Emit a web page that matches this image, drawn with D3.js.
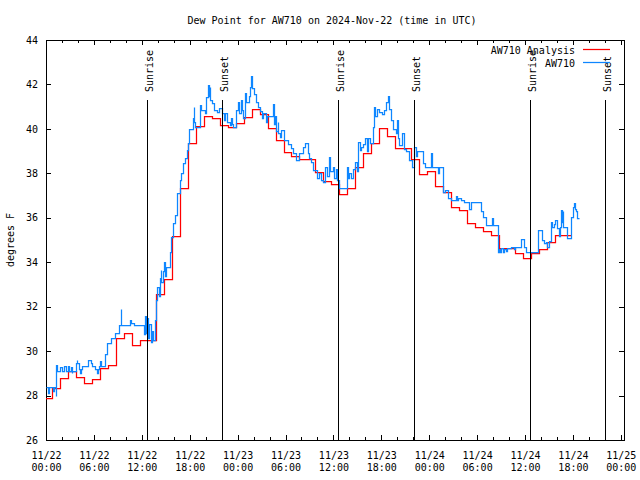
<!DOCTYPE html>
<html><head><meta charset="utf-8">
<script src="https://cdn.jsdelivr.net/npm/d3@7"></script>
<style>
body{margin:0;background:#fff}
svg text{font-family:"DejaVu Sans Mono",monospace;font-size:10px;fill:#000}
</style></head><body>
<svg id="chart" width="640" height="480"></svg>
<script>
// ---------------- data ----------------
const title = "Dew Point for AW710 on 2024-Nov-22 (time in UTC)";
const yLabel = "degrees F";
const seriesNames = ["AW710 Analysis", "AW710"];
const startUTC = Date.UTC(2024, 10, 22, 0, 0);
const yTicks = [26, 28, 30, 32, 34, 36, 38, 40, 42, 44];
const sunriseHours = [12.63, 36.63, 60.6];
const sunsetHours = [22.03, 46.05, 70.03];

// analysis (hourly, each value held from hh-0:15 to hh+0:45)
const analysisStartHour = -0.25;
const analysisValues = [
  27.87, 28.32, 28.77, 29.12, 28.85, 28.55, 28.76, 29.22, 29.36, 30.57,
  30.80, 30.27, 30.48, 30.48, 32.57, 33.23, 35.18, 37.33, 39.38, 40.13,
  40.56, 40.49, 40.16, 40.07, 40.27, 40.52, 40.88, 40.66, 40.04, 39.49,
  38.96, 38.79, 38.63, 38.63, 38.07, 37.67, 37.52, 37.07, 37.33, 38.27,
  38.90, 39.35, 40.02, 39.68, 39.12, 39.12, 38.63, 37.97, 38.10, 37.43,
  37.15, 36.47, 36.35, 35.77, 35.57, 35.40, 35.21, 34.62, 34.62, 34.40,
  34.17, 34.42, 34.58, 34.90, 35.22, 35.22, 35.22
];

// station observations (hours after 11/22 00:00 UTC)
const stationHours = [
  0.0,0.3,0.4,0.9,1.0,1.2,1.3,1.35,1.8,2.0,2.2,2.45,2.8,2.9,3.1,3.2,3.3,3.7,3.85,3.9,
  4.1,4.3,4.4,4.5,5.3,5.6,5.8,6.2,6.4,6.5,6.6,6.8,6.9,7.4,7.6,8.2,8.7,9.2,9.35,9.45,
  10.5,10.7,11.0,12.3,12.4,12.5,12.6,12.75,12.9,13.1,13.25,13.4,13.6,13.7,13.8,13.95,14.1,14.25,14.35,14.45,
  14.6,14.75,14.85,15.0,15.5,15.7,15.9,16.1,16.4,16.75,16.9,17.2,17.4,17.6,17.8,17.92,18.4,18.5,18.55,18.7,
  19.25,19.4,19.9,20.1,20.3,20.4,20.5,20.6,20.85,21.1,21.45,21.7,22.0,22.3,22.4,22.7,23.0,23.2,23.3,23.45,
  23.75,24.1,24.2,24.4,24.6,24.7,24.9,25.1,25.4,25.6,25.7,25.8,26.0,26.3,26.55,26.8,27.0,27.2,27.5,27.7,
  28.4,28.6,28.7,28.8,29.0,29.05,29.25,29.45,29.75,30.3,30.7,30.95,31.35,31.75,32.2,32.4,32.8,33.0,33.2,33.5,
  33.9,34.2,34.4,34.7,35.0,35.2,35.4,35.6,35.9,36.1,36.35,36.5,36.7,37.67,37.8,38.0,38.2,38.4,38.7,38.9,
  39.05,39.3,39.5,39.7,39.9,40.2,40.35,40.6,40.9,41.1,41.25,41.5,41.75,42.1,42.4,42.6,42.8,42.95,43.2,43.5,
  43.8,43.95,44.1,44.25,44.6,44.8,45.1,45.5,45.8,46.05,46.3,46.5,46.7,47.2,47.5,48.2,48.35,49.05,49.25,49.67,
  50.0,50.4,50.7,51.3,51.5,51.6,52.0,52.4,53.0,53.2,54.45,54.7,55.1,55.9,56.0,56.6,56.8,56.9,57.0,57.2,
  57.4,57.6,57.8,58.2,58.6,58.8,59.45,59.85,60.08,61.67,62.1,62.4,62.6,62.8,63.0,63.2,63.42,63.6,63.8,64.0,
  64.2,64.4,64.5,64.6,64.7,64.8,65.0,65.3,65.7,65.8,66.0,66.1,66.2,66.4,66.55,66.75
];
const stationValues = [
  28.37,28.1,28.37,28.2,28.37,28.0,29.37,29.12,29.3,29.12,29.35,29.12,29.35,29.12,29.3,29.0,29.12,29.45,29.6,29.45,
  29.2,29.0,29.2,29.35,29.6,29.45,29.35,29.2,29.0,29.2,29.35,29.55,29.35,29.85,30.35,30.6,30.83,31.17,31.9,31.17,
  31.4,31.25,31.17,30.77,31.6,30.8,31.5,30.6,31.2,30.4,30.9,30.5,31.0,31.4,32.3,32.9,32.5,33.3,33.65,33.1,
  33.6,34.0,33.4,33.8,34.47,35.15,35.75,36.12,37.1,37.7,38.0,38.45,38.68,39.05,39.35,39.98,40.47,41.0,40.3,40.1,
  41.08,40.85,40.7,41.45,41.97,41.5,41.9,41.3,41.15,40.85,40.75,40.92,40.7,40.4,40.7,40.3,40.17,40.5,40.2,40.1,
  40.85,41.2,40.7,41.3,40.85,40.5,41.6,41.2,41.5,41.9,42.38,41.85,41.55,41.2,41.0,40.8,40.5,40.7,40.33,40.6,
  41.1,40.2,40.6,39.9,40.3,39.8,39.65,39.95,39.5,39.3,39.12,38.9,38.6,38.9,39.2,39.35,38.9,38.7,38.5,38.15,
  37.8,38.0,37.7,37.6,38.3,37.9,38.75,38.1,38.3,37.8,38.2,37.7,37.33,38.3,37.8,38.0,37.8,38.2,38.5,38.1,
  39.4,39.05,39.2,39.3,39.57,39.0,39.6,39.35,40.1,41.0,40.6,40.9,40.77,40.65,40.85,41.2,41.48,40.9,40.4,40.0,
  39.8,40.4,39.6,39.27,39.8,39.1,39.0,38.6,38.3,39.2,38.8,39.0,39.0,38.45,38.3,38.9,38.3,38.0,38.3,37.18,
  37.25,36.9,36.8,37.0,36.8,36.9,36.8,36.72,36.4,36.72,36.3,36.05,35.67,36.0,35.67,34.47,34.6,34.45,34.65,34.45,
  34.6,34.5,34.65,34.7,34.6,34.7,35.03,34.7,34.45,35.45,35.0,34.85,34.9,34.7,34.95,35.8,35.6,35.7,35.9,35.55,
  35.2,35.6,36.35,35.8,36.3,35.6,35.6,35.1,35.1,36.05,36.5,36.65,36.4,36.3,35.98,35.98
];

// ---------------- drawing ----------------
const HOUR = 3600e3;
const hToDate = h => new Date(startUTC + h * HOUR);
const px = v => Math.round(v) + 0.5;   // snap to pixel centres
const L = 46, R = 624, T = 40, B = 440;
const svg = d3.select("#chart");

const x = d3.scaleUtc().domain([hToDate(0), hToDate(72.4)]).range([L, R]);
const y = d3.scaleLinear().domain([26, 44]).range([B, T]);

svg.append("rect").attr("width", 640).attr("height", 480).attr("fill", "#fff");

const defs = svg.append("defs");
defs.append("clipPath").attr("id", "plotclip").append("rect")
  .attr("x", L).attr("y", T).attr("width", R - L).attr("height", B - T);

// title
svg.append("text").attr("x", 332).attr("y", 24).attr("text-anchor", "middle").text(title);
svg.append("text").attr("transform", "translate(14,240) rotate(-90)")
  .attr("text-anchor", "middle").text(yLabel);

const majorTimes = d3.range(0, 73, 6).map(hToDate);
const minorTimes = d3.range(0, 73, 2).filter(h => h % 6 !== 0).map(hToDate);
const fmtDay = d3.utcFormat("%m/%d"), fmtHr = d3.utcFormat("%H:%M");

// bottom axis (major, labelled)
const gB = svg.append("g").attr("transform", `translate(0,${B})`)
  .call(d3.axisBottom(x).tickValues(majorTimes).tickSizeInner(-5).tickSizeOuter(0).tickPadding(0).tickFormat(""));
gB.selectAll(".tick text").each(function(d) {
  const t = d3.select(this);
  t.attr("y", null).attr("dy", null);
  t.append("tspan").attr("x", 0).attr("y", 19).text(fmtDay(d));
  t.append("tspan").attr("x", 0).attr("y", 31).text(fmtHr(d));
});
svg.append("g").attr("transform", `translate(0,${B})`)
  .call(d3.axisBottom(x).tickValues(minorTimes).tickSizeInner(-3).tickSizeOuter(0).tickFormat(""));
// top mirror
svg.append("g").attr("transform", `translate(0,${T})`)
  .call(d3.axisTop(x).tickValues(majorTimes).tickSizeInner(-5).tickSizeOuter(0).tickFormat(""));
svg.append("g").attr("transform", `translate(0,${T})`)
  .call(d3.axisTop(x).tickValues(minorTimes).tickSizeInner(-3).tickSizeOuter(0).tickFormat(""));
// left / right
svg.append("g").attr("transform", `translate(${L},0)`)
  .call(d3.axisLeft(y).tickValues(yTicks).tickSizeInner(-5).tickSizeOuter(0).tickPadding(8).tickFormat(d3.format("d")));
svg.append("g").attr("transform", `translate(${R},0)`)
  .call(d3.axisRight(y).tickValues(yTicks).tickSizeInner(-5).tickSizeOuter(0).tickFormat(""));

svg.selectAll(".domain").remove();
svg.selectAll(".tick line").attr("stroke", "#000").attr("shape-rendering", "crispEdges");
svg.selectAll(".tick text").attr("font-family", "DejaVu Sans Mono").attr("font-size", 10).attr("fill", "#000");

// border
svg.append("rect").attr("x", L).attr("y", T).attr("width", R - L).attr("height", B - T)
  .attr("fill", "none").attr("stroke", "#000").attr("shape-rendering", "crispEdges");

// data
const plot = svg.append("g").attr("clip-path", "url(#plotclip)");
const analysis = analysisValues.map((v, i) => ({ t: hToDate(analysisStartHour + i), v }));
const station = stationHours.map((h, i) => ({ t: hToDate(h), v: stationValues[i] }));
const line = d3.line().x(d => px(x(d.t))).y(d => px(y(d.v))).curve(d3.curveStepAfter);

plot.append("path").datum(analysis).attr("d", line)
  .attr("fill", "none").attr("stroke", "#ff0000").attr("stroke-width", 1.25);
plot.append("path").datum(station).attr("d", line)
  .attr("fill", "none").attr("stroke", "#0e86ff").attr("stroke-width", 1.25);

// sunrise / sunset
const events = sunriseHours.map(h => ({ h, name: "Sunrise" }))
  .concat(sunsetHours.map(h => ({ h, name: "Sunset" })));
events.forEach(e => {
  const xx = px(x(hToDate(e.h)));
  svg.append("line").attr("x1", xx).attr("x2", xx).attr("y1", 100).attr("y2", B)
    .attr("stroke", "#000").attr("shape-rendering", "crispEdges");
  svg.append("text").attr("transform", `translate(${xx + 5},92) rotate(-90)`)
    .attr("text-anchor", "start").text(e.name);
});

// legend
const legColors = ["#ff0000", "#0e86ff"];
seriesNames.forEach((n, i) => {
  const yy = 50 + i * 13;
  svg.append("text").attr("x", 575).attr("y", yy + 4).attr("text-anchor", "end").text(n);
  svg.append("line").attr("x1", 583).attr("x2", 610).attr("y1", yy - 0.5).attr("y2", yy - 0.5)
    .attr("stroke", legColors[i]).attr("stroke-width", 1.25);
});
</script>
</body></html>
